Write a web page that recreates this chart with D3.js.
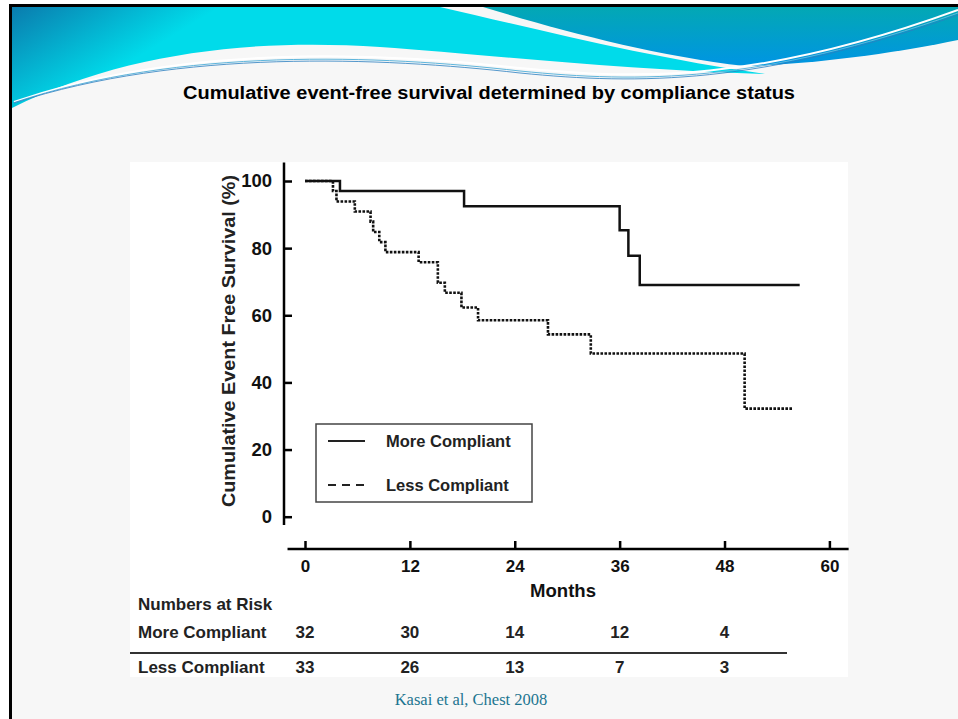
<!DOCTYPE html>
<html>
<head>
<meta charset="utf-8">
<script src="https://cdn.jsdelivr.net/npm/d3@7"></script>
<style>
  body { margin: 0; background: #fff; }
  svg { display: block; font-family: "Liberation Sans", Arial, sans-serif; }
</style>
</head>
<body>
<div id="chart"></div>
<script>
// Kaplan-Meier steps (months, % event free)
var moreMonths = [0, 4.0, 18.2, 36.0, 37.0, 38.3, 56.6];
var moreSurvival = [100, 97.0, 92.5, 85.3, 77.7, 69.0, 69.0];
var lessMonths = [0, 3.2, 3.6, 5.7, 7.5, 7.8, 8.5, 9.2, 13.0, 15.2, 16.0, 17.9, 19.8, 27.8, 32.7, 50.3, 55.8];
var lessSurvival = [100, 97.0, 93.9, 90.9, 87.9, 84.8, 81.8, 78.8, 75.8, 69.7, 66.7, 62.3, 58.5, 54.3, 48.6, 32.2, 32.2];

var xTicks = [0, 12, 24, 36, 48, 60];
var yTicks = [0, 20, 40, 60, 80, 100];

// numbers at risk table
var riskMonths = [0, 12, 24, 36, 48];
var riskMore = [32, 30, 14, 12, 4];
var riskLess = [33, 26, 13, 7, 3];
var groupNames = ["More Compliant", "Less Compliant"];

var W = 958, H = 719;
var svg = d3.select('#chart').append('svg')
  .attr('width', W)
  .attr('height', H);

/**
 * Slide background + header swoosh (theme decoration)
 */
var defs = svg.append('defs');
var gLeft = defs.append('linearGradient').attr('id', 'gLeft')
  .attr('gradientUnits', 'userSpaceOnUse')
  .attr('x1', 0).attr('y1', 7).attr('x2', 60).attr('y2', 105);
gLeft.append('stop').attr('offset', 0).attr('stop-color', '#0a76aa');
gLeft.append('stop').attr('offset', 1).attr('stop-color', '#00dbea');
var gRight = defs.append('linearGradient').attr('id', 'gRight')
  .attr('gradientUnits', 'userSpaceOnUse')
  .attr('x1', 0).attr('y1', 7).attr('x2', 0).attr('y2', 62);
gRight.append('stop').attr('offset', 0).attr('stop-color', '#03a8b4');
gRight.append('stop').attr('offset', 1).attr('stop-color', '#0096e0');

svg.append('rect').attr('x', 9).attr('y', 4).attr('width', W - 9).attr('height', H - 4)
  .attr('fill', '#f7f7f7');

svg.append('path')
  .attr('d', 'M12,7 L440,7 C540,30 650,58 765,74 C620,70 480,54 380,47 C250,38 120,54 12,108 Z')
  .attr('fill', 'url(#gLeft)');
svg.append('path')
  .attr('d', 'M483,7 L958,7 L958,40 C900,52 820,64 745,66 C650,55 560,30 483,7 Z')
  .attr('fill', 'url(#gRight)');

// thin swoosh lines
[['#ffffff', 2, 0], ['#5fb6dc', 1, 3], ['#2b7fc0', 0.8, 5]].forEach(function(s){
  svg.append('path')
    .attr('d', 'M14,' + (102 + s[2] * 0.2) + ' C180,' + (44 + s[2]) + ' 380,' + (52 + s[2]) + ' 520,' + (68 + s[2]) +
               ' C640,' + (80 + s[2]) + ' 760,' + (82 + s[2] * 0.5) + ' 958,' + (10 + s[2]))
    .attr('fill', 'none')
    .attr('stroke', s[0])
    .attr('stroke-width', s[1]);
});

// black slide frame (left and top)
svg.append('path').attr('d', 'M10.5,' + H + ' L10.5,5.5 L' + W + ',5.5')
  .attr('fill', 'none').attr('stroke', '#000').attr('stroke-width', 3);

// slide title
svg.append('text')
  .attr('x', 489).attr('y', 99)
  .attr('text-anchor', 'middle')
  .attr('font-size', 18).attr('font-weight', 'bold').attr('fill', '#000')
  .attr('textLength', 612).attr('lengthAdjust', 'spacingAndGlyphs')
  .text('Cumulative event-free survival determined by compliance status');

// white figure panel
svg.append('rect').attr('x', 130).attr('y', 162).attr('width', 718).attr('height', 515)
  .attr('fill', '#fff');

/**
 * Survival plot
 */
var x = d3.scaleLinear().domain([0, 60]).range([305, 829.4]);
var y = d3.scaleLinear().domain([0, 100]).range([516.7, 181]);

var xAxisY = 549, yAxisX = 284;

// axis lines (extend a bit past the scale range like the original)
svg.append('line')
  .attr('x1', x(-2)).attr('x2', x(62.2))
  .attr('y1', xAxisY).attr('y2', xAxisY)
  .attr('stroke', '#000').attr('stroke-width', 2.5);
svg.append('line')
  .attr('x1', yAxisX).attr('x2', yAxisX)
  .attr('y1', y(105.5)).attr('y2', y(-2.5))
  .attr('stroke', '#000').attr('stroke-width', 2.5);

var xAxis = d3.axisBottom(x).tickValues(xTicks).tickSizeInner(-8).tickSizeOuter(0).tickPadding(11);
var gx = svg.append('g').attr('transform', 'translate(0,' + xAxisY + ')').call(xAxis);
var yAxis = d3.axisLeft(y).tickValues(yTicks).tickSizeInner(-8).tickSizeOuter(0).tickPadding(12);
var gy = svg.append('g').attr('transform', 'translate(' + yAxisX + ',0)').call(yAxis);

[gx, gy].forEach(function(g, i){
  g.select('.domain').remove();
  g.selectAll('line').attr('stroke', '#000').attr('stroke-width', 2.5);
  g.selectAll('text')
    .attr('font-family', '"Liberation Sans", Arial, sans-serif')
    .attr('font-size', i ? 18.5 : 17).attr('font-weight', 'bold').attr('fill', '#111');
});

// axis titles
svg.append('text')
  .attr('x', 563).attr('y', 597)
  .attr('text-anchor', 'middle')
  .attr('font-size', 18).attr('font-weight', 'bold').attr('fill', '#111')
  .attr('textLength', 66).attr('lengthAdjust', 'spacingAndGlyphs')
  .text('Months');
svg.append('text')
  .attr('transform', 'translate(235,341) rotate(-90)')
  .attr('text-anchor', 'middle')
  .attr('font-size', 17.5).attr('font-weight', 'bold').attr('fill', '#222')
  .attr('textLength', 332).attr('lengthAdjust', 'spacingAndGlyphs')
  .text('Cumulative Event Free Survival (%)');

// step curves
var step = d3.line()
  .x(function(d){ return x(d[0]); })
  .y(function(d){ return y(d[1]); })
  .curve(d3.curveStepAfter);

svg.append('path')
  .datum(d3.zip(moreMonths, moreSurvival))
  .attr('d', step)
  .attr('fill', 'none')
  .attr('stroke', '#111')
  .attr('stroke-width', 2.5);

svg.append('path')
  .datum(d3.zip(lessMonths, lessSurvival))
  .attr('d', step)
  .attr('fill', 'none')
  .attr('stroke', '#111')
  .attr('stroke-width', 2.6)
  .attr('stroke-dasharray', '2.6,1.4');

// legend
var legend = svg.append('g').attr('transform', 'translate(316,424)');
legend.append('rect')
  .attr('width', 216).attr('height', 78)
  .attr('fill', '#fff').attr('stroke', '#444').attr('stroke-width', 1.5);
groupNames.forEach(function(name, i){
  var ly = 17 + i * 44;
  legend.append('line')
    .attr('x1', 12).attr('x2', 49).attr('y1', ly).attr('y2', ly)
    .attr('stroke', '#222').attr('stroke-width', 2)
    .attr('stroke-dasharray', i ? '8,6' : null);
  legend.append('text')
    .attr('x', 70).attr('y', ly + 6)
    .attr('font-size', 16.5).attr('font-weight', 'bold').attr('fill', '#222')
    .text(name);
});

/**
 * Numbers at risk
 */
var table = svg.append('g').attr('font-size', 17).attr('font-weight', 'bold').attr('fill', '#222');
table.append('text').attr('x', 138).attr('y', 610).text('Numbers at Risk');

[riskMore, riskLess].forEach(function(row, i){
  var ty = i ? 673 : 638;
  table.append('text').attr('x', 138).attr('y', ty).text(groupNames[i]);
  table.selectAll('.risk' + i)
    .data(row)
    .enter().append('text')
    .attr('class', 'risk' + i)
    .attr('x', function(d, j){ return x(riskMonths[j]); })
    .attr('y', ty)
    .attr('text-anchor', 'middle')
    .text(function(d){ return d; });
});

svg.append('line')
  .attr('x1', 130).attr('x2', 787).attr('y1', 653).attr('y2', 653)
  .attr('stroke', '#333').attr('stroke-width', 2);

// source
svg.append('text')
  .attr('x', 471).attr('y', 705)
  .attr('text-anchor', 'middle')
  .attr('font-family', '"Liberation Serif", "DejaVu Serif", serif')
  .attr('font-size', 16.5).attr('fill', '#1c7590')
  .text('Kasai et al, Chest 2008');
</script>
</body>
</html>
